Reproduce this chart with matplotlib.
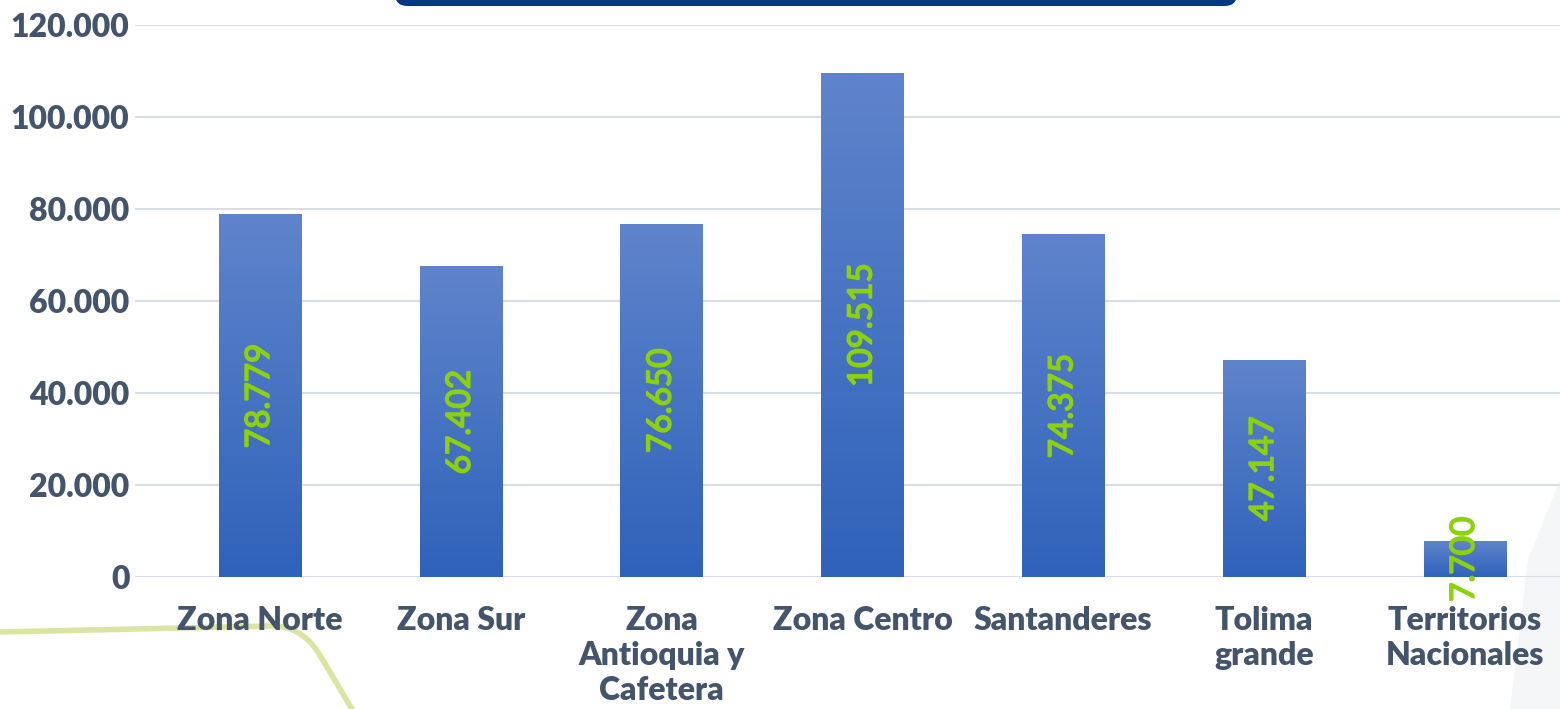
import numpy as np
import matplotlib
matplotlib.use('Agg')
import matplotlib.pyplot as plt
import matplotlib.patheffects as pe
from matplotlib.patches import FancyBboxPatch, Polygon, PathPatch
from matplotlib.path import Path
from matplotlib.ticker import FuncFormatter

categories = ['Zona Norte', 'Zona Sur', 'Zona\nAntioquia y\nCafetera', 'Zona Centro',
              'Santanderes', 'Tolima\ngrande', 'Territorios\nNacionales']
values = [78779, 67402, 76650, 109515, 74375, 47147, 7700]
y_ticks = [0, 20000, 40000, 60000, 80000, 100000, 120000]

text_color = '#44546A'
label_green = '#8CD20C'
plt.rcParams['font.family'] = ['Lato', 'DejaVu Sans']

fig = plt.figure(figsize=(15.6, 7.09), dpi=100)
ax = fig.add_axes([135 / 1560, 1 - 577 / 709, 1425 / 1560, 552 / 709])

# background decorations
deco = fig.add_axes([0, 0, 1, 1], zorder=-1)
deco.set_xlim(0, 1560)
deco.set_ylim(709, 0)
deco.axis('off')
verts = [(0, 632), (270, 626), (300, 625), (318, 652), (352, 709)]
codes = [Path.MOVETO, Path.LINETO, Path.CURVE3, Path.CURVE3, Path.LINETO]
deco.add_patch(PathPatch(Path(verts, codes), facecolor='none', edgecolor='#DCE4A2',
                         lw=4, capstyle='round'))
deco.add_patch(Polygon([[1560, 480], [1528, 560], [1510, 709], [1560, 709]],
                       closed=True, facecolor='#F5F6F8', edgecolor='none'))

# title box (cut off at top)
fig.patches.append(FancyBboxPatch((395 / 1560, 1 - 6 / 709), 842 / 1560, 20 / 709,
                                  boxstyle='round,pad=0,rounding_size=0.008',
                                  transform=fig.transFigure, facecolor='#003882',
                                  edgecolor='none', mutation_aspect=2.2))

x = np.arange(len(categories))
bars = ax.bar(x, values, width=0.41, color='none', zorder=3)
grad = np.linspace(0, 1, 256).reshape(-1, 1)
cmap = matplotlib.colors.LinearSegmentedColormap.from_list('g', ['#2F62BA', '#5F84CB'])
for b in bars:
    x0, w, h = b.get_x(), b.get_width(), b.get_height()
    ax.imshow(grad, extent=[x0, x0 + w, 0, h], origin='lower', cmap=cmap,
              aspect='auto', zorder=3)
for xi, v in zip(x, values):
    ax.text(xi, v / 2, f'{v:,}'.replace(',', '.'), rotation=90, ha='center', va='center',
            color=label_green, fontsize=24, zorder=4,
            path_effects=[pe.withStroke(linewidth=1.2, foreground=label_green)])

ax.set_xlim(-0.6225, 6.474)
ax.set_ylim(0, 120000)
ax.set_yticks(y_ticks)
ax.yaxis.set_major_formatter(FuncFormatter(lambda v, p: f'{int(v):,}'.replace(',', '.')))
ax.set_xticks(x)
ax.set_xticklabels(categories, linespacing=1.25)
ax.tick_params(length=0, labelsize=23, labelcolor=text_color)
ax.tick_params(axis='x', pad=21)
ax.tick_params(axis='y', pad=4)
for lab in ax.get_xticklabels() + ax.get_yticklabels():
    lab.set_fontweight('heavy')
ax.grid(axis='y', color='#D9DEE5', lw=1.5, zorder=0)
for s in ax.spines.values():
    s.set_visible(False)
ax.patch.set_alpha(0)

fig.savefig('out.png', dpi=100)
